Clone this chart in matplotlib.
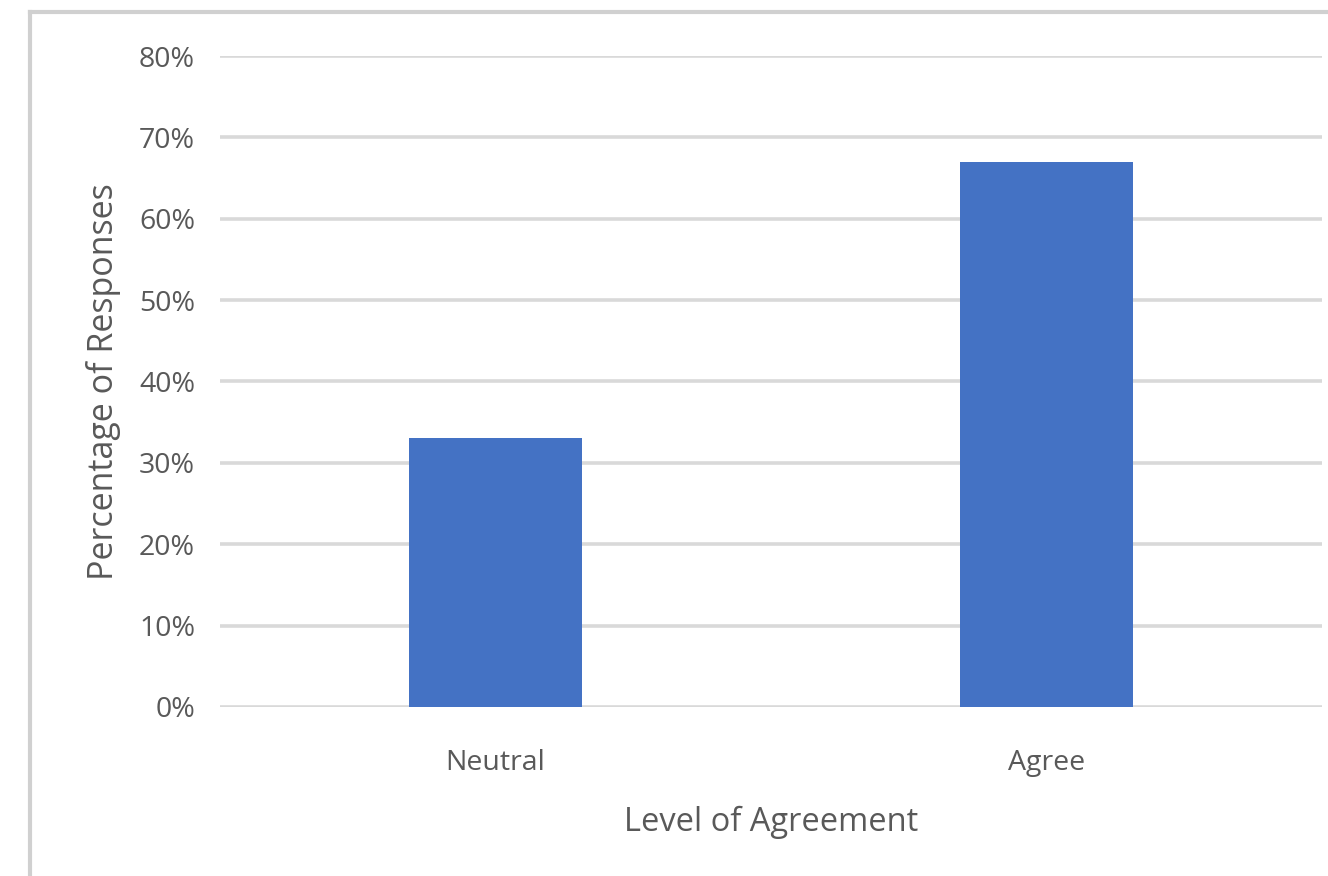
import matplotlib
matplotlib.use("Agg")
from matplotlib import pyplot as plt
from matplotlib.lines import Line2D
from matplotlib.ticker import PercentFormatter

categories = ["Neutral", "Agree"]
shares = [0.33, 0.67]
yticks = [0.0, 0.1, 0.2, 0.3, 0.4, 0.5, 0.6, 0.7, 0.8]

plt.rcParams["font.family"] = ["Open Sans", "DejaVu Sans"]
text_grey = "#595959"
grid_grey = "#d9d9d9"

fig = plt.figure(figsize=(13.28, 8.76), dpi=100)
ax = fig.add_axes([0.1657, 0.193, 0.8298, 0.743])

x = range(len(categories))
ax.bar(x, shares, width=0.314, color="#4472c4", zorder=3)

ax.set_xlim(-0.5, len(categories) - 0.5)
ax.set_ylim(0, 0.8)
ax.set_yticks(yticks)
ax.yaxis.set_major_formatter(PercentFormatter(1.0, decimals=0))
ax.set_xticks(list(x))
ax.set_xticklabels(categories)
ax.grid(axis="y", color=grid_grey, linewidth=2.6, zorder=0)
ax.tick_params(length=0, labelsize=20.5, labelcolor=text_grey)
ax.tick_params(axis="y", pad=18)
ax.tick_params(axis="x", pad=30)
for s in ax.spines.values():
    s.set_visible(False)

ax.set_xlabel("Level of Agreement", fontsize=23.5, color=text_grey, labelpad=21)
ax.set_ylabel("Percentage of Responses", fontsize=24.5, color=text_grey, labelpad=13)

# chart frame, top and left edges
fig.add_artist(Line2D([30 / 1328, 1.0], [1 - 12 / 876, 1 - 12 / 876],
                      transform=fig.transFigure, color="#d0d0d0", linewidth=3))
fig.add_artist(Line2D([30 / 1328, 30 / 1328], [0.0, 1 - 12 / 876],
                      transform=fig.transFigure, color="#d0d0d0", linewidth=3))

fig.savefig("out.png", dpi=100)
